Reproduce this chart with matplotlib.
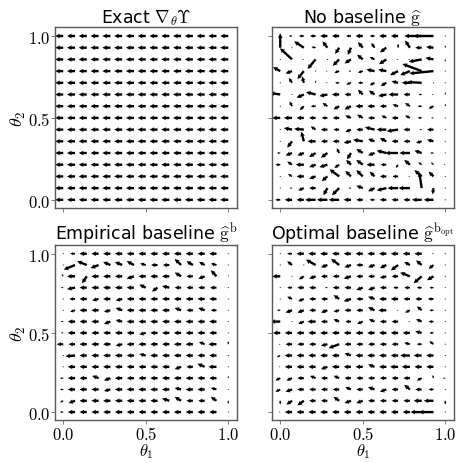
import numpy as np
import matplotlib
matplotlib.use("Agg")
import matplotlib.pyplot as plt

plt.rcParams['mathtext.fontset'] = 'cm'
plt.rcParams['font.family'] = ['DejaVu Sans']

# grid of theta values, rows listed from theta2 = 1 (top) down to 0
n = 15
theta1 = np.linspace(0, 1, n)
theta2 = np.linspace(1, 0, n)

# exact gradient: uniform field pointing left
exact_u = [[-1.0] * n for _ in range(n)]
exact_v = [[0.0] * n for _ in range(n)]

nob_u = [
    [0, -0.4, -0.6, -0.7, -0.9, -0.9, -0.6, -0.9, -0.6, -0.9, -0.9, -0.2, -1.0, -3.6, 0],
    [0, 0, -1.2, -0.5, -0.6, -0.5, -0.4, -0.6, -0.4, -0.8, 0, -0.6, -0.8, -0.9, 0],
    [0, -1.5, -0.2, -1.0, 0, -0.8, -0.8, -0.7, -0.6, -0.9, -0.2, -0.2, -1.6, -1.0, 0],
    [-0.9, -0.8, -0.8, 0, -0.2, -0.6, -0.3, -0.6, -1.0, -1.0, -1.0, -1.2, -2.4, -3.0, 0],
    [0, -0.4, -0.2, 0, -0.2, -0.5, -0.6, -0.6, -0.6, -0.7, -0.8, -1.0, -1.8, -0.1, 0],
    [-1.3, 0, -0.9, -1.2, -1.0, -0.9, -0.8, -0.6, -0.7, -1.0, -1.2, -0.8, -0.4, -0.2, 0],
    [0, -0.3, -0.5, -0.6, -0.6, -0.7, -0.8, -0.9, -0.9, -0.8, -0.7, -0.6, -0.5, -0.6, 0],
    [-1.0, -1.0, -0.9, -0.8, -0.7, -0.8, -0.7, -0.7, -0.8, -0.6, -0.8, -0.6, -0.5, -0.3, 0],
    [0, -1.0, -1.2, -0.6, -0.8, -0.7, -0.7, -0.8, -1.2, -1.2, -1.4, -0.8, -0.3, -0.8, 0],
    [0, -0.6, -0.3, -1.0, -0.8, -0.8, -0.9, -1.2, -0.8, -0.8, -0.8, -0.8, -0.7, -0.8, 0],
    [-0.4, -0.8, -0.8, -0.8, -0.8, -0.3, -0.5, -0.8, -0.8, -1.2, -1.6, -1.3, -0.9, -0.4, 0],
    [-0.6, -0.6, -1.0, -0.8, -1.0, -0.6, -0.6, -0.8, -1.0, -0.7, -0.3, -0.7, -0.4, -0.3, -0.2],
    [0, -0.5, -0.9, -0.8, -0.7, -1.2, -0.7, -0.8, -0.6, -0.8, -0.7, -0.2, -0.9, -0.6, 0],
    [0, -0.3, -0.7, -0.8, -0.5, -0.9, -0.3, -0.8, -0.8, -1.2, -1.3, -1.4, -0.3, -0.1, 0],
    [-0.6, -0.9, -0.9, -1.3, -1.3, -1.3, -0.9, -0.8, -0.6, -0.8, -0.8, -0.8, -1.2, -1.2, 0],
]
nob_v = [
    [0, 0, 0, 0, 0, 0, 0, 0, 0, 0, 0, 0, 0, 0, 0],
    [1.8, 0, 0.8, 0.1, 0.8, -0.8, -0.9, 0.7, 0.6, -0.6, 0.5, 0.9, 0, 0.1, 0.3],
    [0, 1.4, 0, -1.2, 0, -0.8, -0.5, 0.6, 0.3, -0.6, 0, 0, -0.3, 0.2, -0.3],
    [0.5, -0.3, -1.0, 0, 0, -0.2, 0, -0.2, 0.2, 0.2, -0.5, -0.5, 0.9, -0.3, 0],
    [0, 0.6, 0.8, 0.3, 0, 0, -0.2, 0, -0.3, -0.4, 0.2, 0, 0.1, 0, 0],
    [0.2, 0, -0.4, 0.3, -0.2, 0, 0, 0.6, 0.5, -0.2, 0, 0, 0, 0, 0.3],
    [0, 0.6, -0.5, 0, 0.4, -0.4, -0.4, 0, 0, 0, 0.2, 0.4, 0, -0.3, 0.3],
    [0, 0, 0, 0, 0, 0, 0.3, 0.4, 0, 0.3, 0, 0.3, 0, 0, 0],
    [0, 0.2, 0.1, 0.4, 0, 0, -0.3, 0, 0.3, 0, -0.2, 0, 0, 0, 0],
    [0, -0.8, 1.2, 0, 0, 0, -0.2, 0.2, 0.3, 0.4, 0, 0, -0.2, 0.2, 0],
    [0, -0.3, -0.3, -0.5, -0.6, 0.6, -0.8, 0.5, -0.3, 0.3, 0, 0, 0.3, 0, 0],
    [0, 0.4, 0, -0.3, -0.3, -0.4, 0.6, 0.6, 0, 0, -0.4, 0.6, 0.3, 0.3, 0],
    [0, 0.3, 0, -0.3, -0.6, 0.9, 0.7, 0.8, 0.6, 0, 0, 0, 0.8, 0.6, 0.1],
    [0, 0, -0.3, 0, -0.9, -0.9, 0, 0.3, -0.4, -0.3, 0, 0, 2.0, -0.8, 0],
    [0, 0, 0, 0, 0, 0, 0, 0, 0, 0, 0, 0, 0, 0, 0],
]

emp_u = [
    [0, -0.6, -0.9, -0.9, -0.9, -0.9, -0.9, -0.9, -0.9, -0.9, -0.9, -0.9, -0.9, -0.9, 0],
    [0, -1.4, -1.2, -1.0, -0.9, -0.9, -0.9, -0.7, -0.8, -0.8, -0.8, -0.8, -0.7, -0.7, 0],
    [-0.2, -1.0, -0.6, -0.9, -0.9, -0.9, -0.9, -0.9, -0.9, -0.9, -0.8, -0.8, -0.8, -0.7, 0],
    [-0.3, -1.0, -0.9, -0.9, -0.9, -0.9, -0.9, -0.8, -0.7, -0.9, -0.8, -0.8, -0.8, -0.8, 0],
    [0, -0.7, -0.9, -0.8, -0.9, -0.8, -0.9, -0.9, -0.9, -0.9, -0.9, -0.9, -0.9, -0.9, 0],
    [0, -0.6, -0.9, -0.9, -0.8, -0.8, -0.9, -0.9, -0.9, -0.9, -0.8, -0.8, -0.8, -0.7, 0],
    [-0.3, -0.9, -0.9, -0.9, -0.8, -0.8, -0.9, -0.9, -0.9, -0.9, -0.9, -0.9, -0.9, -0.9, 0],
    [-0.3, -0.9, -0.9, -0.9, -0.9, -0.9, -0.9, -0.8, -0.9, -0.9, -0.9, -0.9, -0.9, -0.9, 0],
    [-0.8, -0.8, -0.9, -0.9, -0.9, -0.8, -0.9, -0.9, -0.9, -0.9, -0.9, -0.9, -0.7, -1.0, 0],
    [0, -1.2, -0.9, -0.9, -0.9, -0.9, -0.9, -0.8, -0.9, -0.9, -0.9, -0.9, -0.9, -0.9, 0],
    [0, -0.9, -0.9, -0.9, -0.9, -0.9, -0.9, -0.9, -0.9, -0.9, -0.8, -0.8, -0.9, -1.0, 0],
    [-0.4, -0.9, -0.9, -0.8, -0.8, -0.9, -0.9, -0.9, -0.9, -0.9, -0.9, -0.9, -0.9, -0.9, 0],
    [-0.4, -0.9, -0.9, -0.9, -0.8, -0.9, -0.9, -0.9, -0.9, -0.9, -0.8, -0.9, -0.9, -0.7, 0],
    [-0.4, -0.8, -0.9, -0.9, -0.9, -0.9, -0.9, -0.9, -0.9, -0.9, -0.8, -0.8, -0.8, -0.7, 0],
    [-0.4, -0.9, -0.9, -0.9, -0.9, -0.9, -0.9, -0.9, -0.9, -0.9, -0.9, -0.9, -0.9, -0.9, 0],
]
emp_v = [
    [0, 0, 0, 0, 0, 0, 0, 0, 0, 0, 0, 0, 0, 0, 0],
    [0, -0.6, 0.5, -0.4, 0.4, 0.4, 0.5, 0.2, 0, 0, 0.8, 0.5, 0.4, 0.2, 0],
    [0.3, 0, -0.9, 0, 0, 0, -0.3, 0, 0, 0, 0.5, 0, -0.3, 0.8, 0.2],
    [0, -0.2, 0, 0, 0, 0, 0, 0.4, -0.5, 0.2, 0, 0, 0, 0, 0],
    [0, 0, 0, -0.2, 0, -0.2, 0, 0, 0, 0, 0, 0, 0, 0, 0],
    [0, -0.2, 0, 0, -0.2, 0.3, 0, 0, 0, 0, 0.3, 0, 0.3, 0, 0],
    [0, 0, 0, 0, -0.3, 0.2, 0, 0, 0, 0, 0, 0, 0, 0, 0],
    [0, 0, 0, 0, 0, 0, 0, -0.2, 0, 0, 0, 0, 0, 0, 0],
    [0, 0, 0, 0, 0, -0.2, 0, 0, 0, 0, 0, 0, 0.3, 0, 0.4],
    [0, -0.1, 0, 0, 0, 0, 0, 0.2, 0, 0, 0, 0, 0, 0, 0],
    [0, 0, 0, 0, 0, 0, 0, 0, 0, 0, -0.3, 0, 0.4, 0, 0],
    [0, 0, 0, 0.3, -0.3, 0, 0, 0, 0, 0, 0, 0, 0, 0, 0.3],
    [0, 0, 0, 0, -0.2, 0, 0, 0, 0, 0, 0.2, 0, 0, 0.2, 0],
    [-0.2, -0.3, 0, 0, 0, 0, 0, 0, 0, 0.3, 0.5, 0, 0, 0.5, -0.4],
    [0, 0, 0, 0, 0, 0, 0, 0, 0, 0, 0, 0, 0, 0, 0],
]

opt_u = [
    [0, -0.6, -0.9, -0.9, -0.9, -0.9, -0.9, -0.9, -0.9, -0.9, -0.9, -0.9, -0.9, -0.2, 0],
    [0, -0.6, 0, -1.2, -0.8, -1.0, -0.8, -0.8, -0.8, -0.8, -0.9, -0.7, -0.7, -0.6, 0],
    [-1.0, 0, -0.6, -0.8, -0.8, -0.8, -0.9, -0.8, -0.8, -0.8, -0.8, -1.2, -1.0, -0.8, 0],
    [0, -0.6, -0.8, -0.8, -0.3, -0.8, -0.8, -0.8, -0.8, -0.8, -0.6, -0.7, -0.6, -0.5, 0],
    [0, -0.6, -0.7, -0.8, -0.8, -0.7, -0.9, -0.8, -0.8, -0.9, -0.9, -0.8, -0.8, -0.7, 0],
    [-0.4, -0.8, -0.8, -0.8, -0.8, -0.7, -0.8, -0.8, -0.8, -1.0, -0.2, -0.6, -0.6, -0.5, 0],
    [-1.2, -0.1, -0.7, -1.0, -0.8, -0.7, -0.7, -0.7, -0.7, -0.8, -0.8, -0.2, -0.7, -0.6, 0],
    [-0.9, -0.9, -0.9, -0.9, -0.9, -0.9, -0.9, -0.9, -0.9, -0.9, -0.9, -0.9, -0.8, -0.5, 0],
    [-0.2, -0.8, -0.8, -0.8, -0.8, -1.3, -0.8, -0.8, -0.8, -0.8, -0.8, -0.7, -0.6, -0.5, 0],
    [-0.4, -0.9, -0.9, -0.9, -0.9, -0.9, -0.8, -0.9, -0.9, -0.9, -0.9, -1.2, -1.0, -0.9, 0],
    [-0.2, -0.9, -0.9, -0.9, -0.8, -0.9, -0.9, -0.9, -0.8, -0.9, -1.0, -1.0, -0.9, -0.9, 0],
    [-0.6, -0.7, -0.8, -0.7, -0.8, -0.7, -0.8, -0.8, -0.8, -0.8, -0.8, -0.8, -0.6, -0.1, -0.3],
    [-0.6, -0.8, -0.8, -0.8, -0.8, -0.8, -0.7, -0.8, -0.8, -0.8, -0.8, -0.7, -0.8, -0.6, 0],
    [0, -0.7, -0.8, -0.8, -0.8, -0.7, -0.8, -0.8, -0.8, -0.8, -0.8, -0.8, -1.0, -1.2, 0],
    [-0.2, -0.9, -0.9, -0.9, -0.9, -0.9, -0.9, -0.9, -0.9, -0.9, -0.9, -0.9, -1.4, -1.8, 0],
]
opt_v = [
    [0, 0, 0, 0, 0, 0, 0, 0, 0, 0, 0, 0, 0, 0, 0],
    [0, 0.5, 0, 0.7, -0.3, 0.8, -0.3, 0, -0.3, -0.4, -0.7, 0.4, 0.6, -0.5, 0],
    [0, 0, -0.4, -0.3, 0, 0, -0.3, 0, 0, -0.2, 0, 0.5, -0.9, -0.5, 0],
    [0, 0, 0, 0, 0, 0, 0, -0.3, -0.3, 0, 0, 0, 0, 0, 0],
    [0, 0.3, -0.3, 0, 0, 0.5, -0.3, 0, 0.3, 0, 0, 0, 0, 0, 0],
    [0, -0.3, -0.3, 0, -0.3, -0.2, 0, 0, 0.4, 0, 0, -0.3, 0.5, 0, 0],
    [0, 0, -0.3, 0, 0, 0.3, 0, -0.3, 0.3, 0, 0, 0, 0.3, 0, 0],
    [0, 0, 0, 0, 0, 0, 0, 0, 0, 0, 0, 0, 0.2, 0, 0.1],
    [0, 0, 0, 0, -0.2, -0.5, 0, 0, 0, 0, 0, 0.2, 0, 0.4, 0],
    [-0.2, 0, 0, 0, 0, 0, 0.3, 0, 0, 0, 0, 0, 0, 0, 0],
    [0, 0, 0, 0, -0.3, 0, 0, 0, 0.3, 0, 0, 0, 0, 0, 0],
    [-0.3, -0.3, 0, 0.3, 0, 0.3, 0, 0, 0, 0, 0, 0, -0.3, 0.4, 0],
    [-0.3, -0.3, 0, 0, 0, 0, 0.3, 0, 0.3, -0.3, 0, 0.6, 0, 0, 0],
    [-0.5, -0.5, -0.6, 0, 0, 0.5, -0.3, -0.3, 0, 0, 0, 0, 0, 0, -0.5],
    [0, 0, 0, 0, 0, 0, 0, 0, 0, 0, 0, 0, 0, 0, 0],
]

titles = [r"Exact $\nabla_\theta\Upsilon$",
          r"No baseline $\widehat{\mathrm{g}}$",
          r"Empirical baseline $\widehat{\mathrm{g}}^{\mathrm{b}}$",
          r"Optimal baseline $\widehat{\mathrm{g}}^{\mathrm{b_{opt}}}$"]
fields = [(exact_u, exact_v), (nob_u, nob_v), (emp_u, emp_v), (opt_u, opt_v)]

fig = plt.figure(figsize=(4.63, 4.64), dpi=100)
W, H = 463.0, 464.0
boxes = [(55, 28, 182, 181), (272, 28, 182, 181),
         (55, 246, 182, 175), (272, 246, 182, 175)]

X, Y = np.meshgrid(theta1, theta2)
tick_labels = ['$0.0$', '$0.5$', '$1.0$']

for i, ((u, v), title, (l, t, w, h)) in enumerate(zip(fields, titles, boxes)):
    ax = fig.add_axes([l / W, 1 - (t + h) / H, w / W, h / H])
    ax.quiver(X, Y, np.array(u), np.array(v), angles='xy', scale_units='xy',
              scale=20.5, width=0.013, headwidth=2.0, headlength=2.0,
              headaxislength=1.8, minshaft=1.5, minlength=0.5, color='black')
    ax.set_xlim(-0.05, 1.053)
    ax.set_ylim(-0.05, 1.055)
    ax.set_xticks([0, 0.5, 1])
    ax.set_yticks([0, 0.5, 1])
    if i >= 2:
        ax.set_xticklabels(tick_labels)
        ax.set_xlabel(r'$\theta_1$', fontsize=12, labelpad=-1)
    else:
        ax.set_xticklabels([])
    if i % 2 == 0:
        ax.set_yticklabels(tick_labels)
        ax.set_ylabel(r'$\theta_2$', fontsize=13, labelpad=0)
    else:
        ax.set_yticklabels([])
    ax.tick_params(labelsize=12, length=3, width=0.6, color='0.4', pad=0.5)
    for s in ax.spines.values():
        s.set_color('0.35')
        s.set_linewidth(1.0)
    ax.set_title(title, fontsize=12.5, pad=1)

fig.savefig('out.png', dpi=100)
